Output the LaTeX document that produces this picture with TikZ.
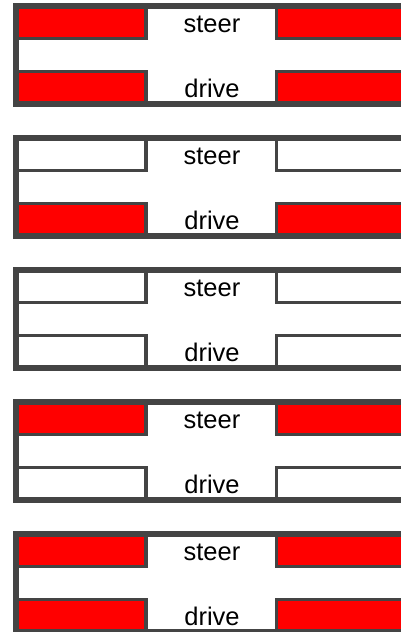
\documentclass[tikz,border=0pt]{standalone}
\usepackage{fontspec}
\setmainfont{Liberation Sans}
\definecolor{framegrey}{HTML}{444444}
\definecolor{lampred}{HTML}{FF0000}
\begin{document}
\begin{tikzpicture}[x=1pt,y=-1pt,
  framebar/.style={fill=framegrey,draw=none},
  slot/.style={draw=framegrey,line width=3.5pt,line join=miter},
  label/.style={anchor=base,inner sep=0pt,font=\fontsize{25.5}{30}\selectfont}]
\useasboundingbox (0,0) rectangle (401,632);
\fill[white] (0,0) rectangle (401,632);
\clip (0,0) rectangle (401,632);
\foreach \i/\tc/\bc [evaluate=\i as \t using 3+132*\i] in {0/lampred/lampred,1/white/lampred,2/white/white,3/lampred/white,4/lampred/lampred}{
  % slots
  \draw[slot,fill=\tc] (16,{\t+3}) rectangle (146,{\t+35.5});
  \draw[slot,fill=\tc] (276.5,{\t+3}) rectangle (420,{\t+35.5});
  \draw[slot,fill=\bc] (16,{\t+68.5}) rectangle (146,{\t+101});
  \draw[slot,fill=\bc] (276.5,{\t+68.5}) rectangle (420,{\t+101});
  % frame
  \fill[framebar] (13,\t) rectangle (19,{\t+104});
  \fill[framebar] (13,\t) rectangle (420,{\t+5.5});
  \fill[framebar] (13,{\t+98}) rectangle (420,{\t+104});
  % labels
  \node[label] (steer\i) at (212,{\t+29}) {steer};
  \node[label] (drive\i) at (212,{\t+94}) {drive};
}
\end{tikzpicture}
\end{document}
